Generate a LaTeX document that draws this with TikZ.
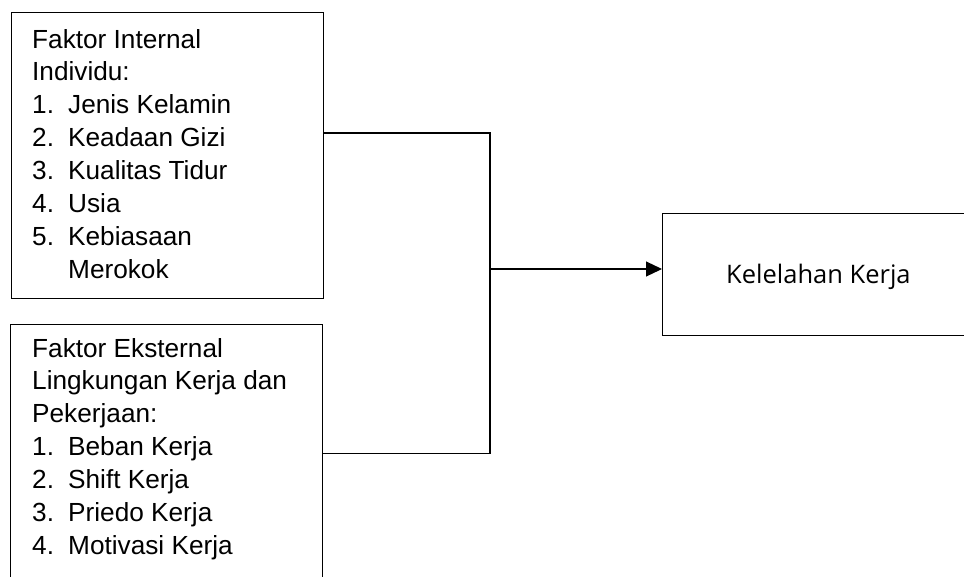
\documentclass[tikz,border=0pt]{standalone}
\usepackage{fontspec}
\setmainfont{Liberation Sans}
\newfontfamily\opensans{Open Sans}
\usetikzlibrary{arrows.meta}
\newcommand\listitem[2]{\makebox[36pt][l]{#1}#2\par}
\newcommand\boxtext[1]{\vtop{\hsize=285pt\parindent=0pt\parskip=0pt\raggedright\fontsize{26.2}{32.9}\selectfont #1}}
\tikzset{
  framebox/.style={draw, line width=1.2pt, inner sep=0pt, anchor=north west},
  listtext/.style={inner sep=0pt, anchor=base west},
  link/.style={line width=1.2pt},
  linkarrow/.style={line width=1.2pt, -{Triangle[length=16pt,width=15pt]}}
}
\begin{document}
\begin{tikzpicture}[x=1pt,y=-1pt]
\useasboundingbox (0,0) rectangle (964,576);
\clip (0,0) rectangle (964,576);
\node[framebox, minimum width=312pt, minimum height=286pt] (b1) at (11,12) {};
\node[framebox, minimum width=312pt, minimum height=290pt] (b2) at (10,324) {};
\node[framebox, minimum width=340pt, minimum height=122pt] (b3) at (662,213) {};
\node[listtext] (t1) at (32,48) {\boxtext{Faktor Internal\par Individu:\par
  \listitem{1.}{Jenis Kelamin}\listitem{2.}{Keadaan Gizi}\listitem{3.}{Kualitas Tidur}\listitem{4.}{Usia}\listitem{5.}{Kebiasaan}\listitem{}{Merokok}}};
\node[listtext] (t2) at (32,357) {\boxtext{Faktor Eksternal\par Lingkungan Kerja dan\par Pekerjaan:\par
  \listitem{1.}{Beban Kerja}\listitem{2.}{Shift Kerja}\listitem{3.}{Priedo Kerja}\listitem{4.}{Motivasi Kerja}}};
\node[listtext, font=\opensans\fontsize{25.5}{30}\selectfont] (t3) at (726,283) {Kelelahan Kerja};
\coordinate (c1) at (490,133);
\coordinate (c2) at (490,453.7);
\coordinate (jn) at (490,269);
\draw[link] (b1.east |- c1) -- (c1) -- (c2) -- (b2.east |- c2);
\draw[linkarrow] (jn) -- (b3.west |- jn);
\end{tikzpicture}
\end{document}
